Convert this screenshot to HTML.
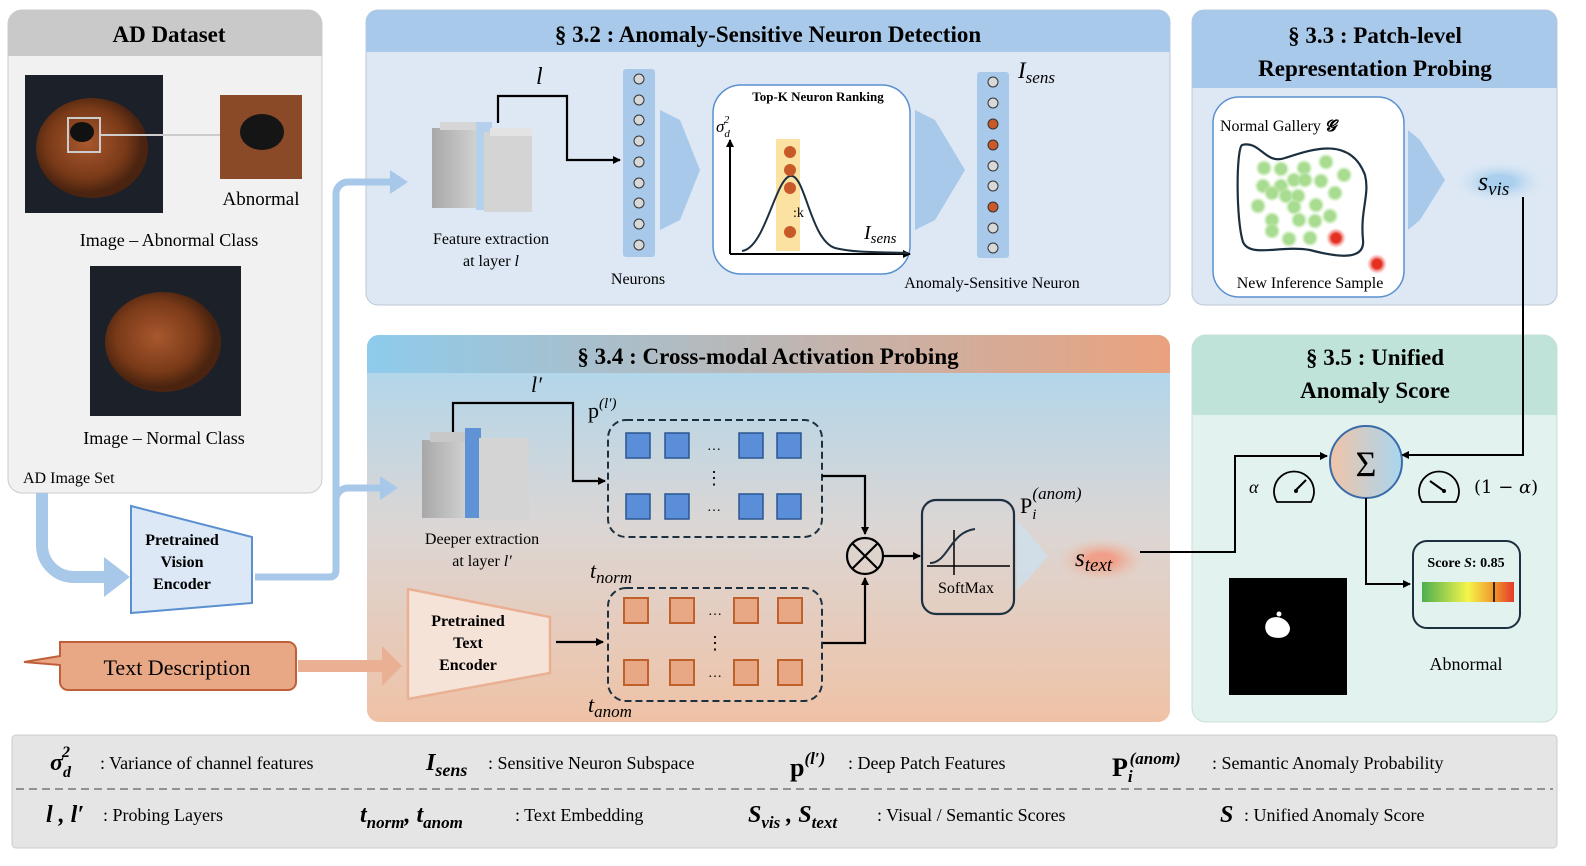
<!DOCTYPE html>
<html><head><meta charset="utf-8"><style>
html,body{margin:0;padding:0;background:#fff;}
svg{display:block;font-family:"Liberation Serif",serif;}
</style></head><body>
<svg width="1586" height="866" viewBox="0 0 1586 866" xmlns="http://www.w3.org/2000/svg">
<defs>
<linearGradient id="hdr34" x1="0" x2="1" y1="0" y2="0"><stop offset="0" stop-color="#8ecbec"/><stop offset="1" stop-color="#eaa27e"/></linearGradient>
<linearGradient id="body34" x1="0" x2="0" y1="0" y2="1"><stop offset="0" stop-color="#a9d6ef"/><stop offset="0.5" stop-color="#dcd6d4"/><stop offset="1" stop-color="#efc2a6"/></linearGradient>
<linearGradient id="sig" x1="0" x2="1"><stop offset="0" stop-color="#f0c4a8"/><stop offset="1" stop-color="#a8d6ef"/></linearGradient>
<linearGradient id="bar" x1="0" x2="1"><stop offset="0" stop-color="#4caf50"/><stop offset="0.5" stop-color="#f5f54a"/><stop offset="0.8" stop-color="#f0902a"/><stop offset="1" stop-color="#e63a2a"/></linearGradient>
<linearGradient id="blk" x1="0" x2="1"><stop offset="0" stop-color="#a8a8a8"/><stop offset="1" stop-color="#d0d0d0"/></linearGradient>
<radialGradient id="nut" cx="0.45" cy="0.45"><stop offset="0" stop-color="#a8582e"/><stop offset="0.7" stop-color="#7a3a18"/><stop offset="1" stop-color="#4a2410"/></radialGradient>
<radialGradient id="svis"><stop offset="0.3" stop-color="#a9d0ee"/><stop offset="1" stop-color="#dde8f4" stop-opacity="0"/></radialGradient>
<radialGradient id="stext"><stop offset="0.3" stop-color="#f0a08a"/><stop offset="1" stop-color="#eac6b2" stop-opacity="0"/></radialGradient>
<radialGradient id="gdot"><stop offset="0.55" stop-color="#a8dc90"/><stop offset="1" stop-color="#c8ecb8" stop-opacity="0"/></radialGradient>
<radialGradient id="rdot"><stop offset="0.45" stop-color="#e43020"/><stop offset="1" stop-color="#f08080" stop-opacity="0"/></radialGradient>
<marker id="ah" markerWidth="8" markerHeight="8" refX="7" refY="4" orient="auto" markerUnits="userSpaceOnUse"><path d="M0,0 L8,4 L0,8 z" fill="#000"/></marker>
</defs>

<!-- Panels backgrounds -->
<rect x="8" y="10" width="314" height="483" rx="14" fill="#f1f1f1" stroke="#ccc"/>
<path d="M8,56 V24 a14,14 0 0 1 14,-14 H308 a14,14 0 0 1 14,14 V56 z" fill="#c9c9c9"/>
<rect x="366" y="10" width="804" height="295" rx="12" fill="#dde8f4" stroke="#bcc8d4"/>
<path d="M366,52 V22 a12,12 0 0 1 12,-12 H1158 a12,12 0 0 1 12,12 V52 z" fill="#a9c9ea"/>
<rect x="1192" y="10" width="365" height="295" rx="12" fill="#dde8f4" stroke="#bcc8d4"/>
<path d="M1192,88 V22 a12,12 0 0 1 12,-12 H1545 a12,12 0 0 1 12,12 V88 z" fill="#a9c9ea"/>
<rect x="367" y="335" width="803" height="387" rx="12" fill="url(#body34)"/>
<path d="M367,373 V347 a12,12 0 0 1 12,-12 H1158 a12,12 0 0 1 12,12 V373 z" fill="url(#hdr34)"/>
<rect x="1192" y="335" width="365" height="387" rx="14" fill="#e2f2ee" stroke="#c8ddd8"/>
<path d="M1192,415 V349 a14,14 0 0 1 14,-14 H1543 a14,14 0 0 1 14,14 V415 z" fill="#bfe3d8"/>
<rect x="12" y="735" width="1545" height="113" rx="4" fill="#e5e5e5" stroke="#ccc"/>

<!-- AD Dataset -->
<text x="169" y="42" font-size="23" font-weight="bold" text-anchor="middle">AD Dataset</text>
<rect x="25" y="75" width="138" height="138" fill="#1c2028"/>
<ellipse cx="92" cy="148" rx="56" ry="50" fill="url(#nut)"/>
<ellipse cx="82" cy="132" rx="12" ry="10" fill="#111"/>
<rect x="68" y="118" width="32" height="34" fill="none" stroke="#ccc" stroke-width="2"/>
<line x1="100" y1="135" x2="220" y2="135" stroke="#ccc" stroke-width="2"/>
<rect x="220" y="95" width="82" height="84" fill="#8a4a28"/>
<ellipse cx="262" cy="132" rx="22" ry="18" fill="#151515"/>
<text x="261" y="205" font-size="19" text-anchor="middle">Abnormal</text>
<text x="169" y="246" font-size="18" text-anchor="middle">Image – Abnormal Class</text>
<rect x="90" y="266" width="151" height="150" fill="#1c2028"/>
<ellipse cx="163" cy="342" rx="58" ry="50" fill="url(#nut)"/>
<text x="164" y="444" font-size="18" text-anchor="middle">Image – Normal Class</text>
<text x="23" y="483" font-size="16">AD Image Set</text>

<!-- blue flows -->
<path d="M42,493 V545 a32,32 0 0 0 32,32 H108" fill="none" stroke="#a8c8ea" stroke-width="12"/>
<path d="M104,557 L130,577 L104,597 z" fill="#a8c8ea"/>
<path d="M255,577 H330 a6,6 0 0 0 6,-6 V194 a12,12 0 0 1 12,-12 H392" fill="none" stroke="#a8c8ea" stroke-width="7"/>
<path d="M390,170 L408,182 L390,194 z" fill="#a8c8ea"/>
<path d="M336,500 a12,12 0 0 1 12,-12 H382" fill="none" stroke="#a8c8ea" stroke-width="7"/>
<path d="M380,476 L398,488 L380,500 z" fill="#a8c8ea"/>
<path d="M131,506 L252,537 V603 L131,613 z" fill="#dce8f5" stroke="#5a90d0" stroke-width="2"/>
<text font-size="16" font-weight="bold" text-anchor="middle"><tspan x="182" y="545">Pretrained</tspan><tspan x="182" y="567">Vision</tspan><tspan x="182" y="589">Encoder</tspan></text>

<!-- Text description -->
<path d="M60,642 H288 a8,8 0 0 1 8,8 V682 a8,8 0 0 1 -8,8 H68 a8,8 0 0 1 -8,-8 V665 L24,662 L60,656 z" fill="#e8a886" stroke="#c0603a" stroke-width="2"/>
<text x="177" y="675" font-size="22" text-anchor="middle">Text Description</text>
<line x1="298" y1="666" x2="385" y2="666" stroke="#eab093" stroke-width="12"/>
<path d="M382,646 L402,666 L382,686 z" fill="#eab093"/>

<!-- Panel 3.2 -->
<text x="768" y="42" font-size="23" font-weight="bold" text-anchor="middle">§ 3.2 : Anomaly-Sensitive Neuron Detection</text>
<rect x="432" y="128" width="44" height="80" fill="url(#blk)"/><rect x="440" y="122" width="38" height="8" fill="#d6d6d6"/>
<rect x="476" y="122" width="16" height="88" fill="#b5d0ec"/>
<rect x="484" y="132" width="48" height="80" fill="#d4d4d4"/><rect x="490" y="128" width="42" height="8" fill="#e3e3e3"/>
<path d="M498,123 V96 H567 V160 H620" fill="none" stroke="#000" stroke-width="2.2" marker-end="url(#ah)"/>
<text x="536" y="84" font-size="24" font-style="italic">l</text>
<text x="491" y="244" font-size="16" text-anchor="middle">Feature extraction</text>
<text x="491" y="266" font-size="16" text-anchor="middle">at layer <tspan font-style="italic">l</tspan></text>
<rect x="623" y="69" width="32" height="188" rx="3" fill="#a9c9ea"/>
<g fill="#d8d8d8" stroke="#333"><circle cx="639" cy="79" r="5"/><circle cx="639" cy="100" r="5"/><circle cx="639" cy="120" r="5"/><circle cx="639" cy="141" r="5"/><circle cx="639" cy="162" r="5"/><circle cx="639" cy="183" r="5"/><circle cx="639" cy="203" r="5"/><circle cx="639" cy="224" r="5"/><circle cx="639" cy="245" r="5"/></g>
<text x="638" y="284" font-size="16" text-anchor="middle">Neurons</text>
<path d="M660,110 L680,120 L700,170 L680,220 L660,230 z" fill="#a9c9ea"/>
<rect x="713" y="85" width="197" height="189" rx="28" fill="#fff" stroke="#5a90d0" stroke-width="1.5"/>
<text x="818" y="101" font-size="13" font-weight="bold" text-anchor="middle">Top-K Neuron Ranking</text>
<rect x="776" y="139" width="24" height="112" fill="#fbe2a3"/>
<path d="M730,254 V140" stroke="#000" stroke-width="2" marker-end="url(#ah)"/>
<path d="M730,254 H910" stroke="#000" stroke-width="2" marker-end="url(#ah)"/>
<path d="M742,251 C765,248 775,180 790,176 C805,172 810,240 835,248 C855,253 880,252 908,253" fill="none" stroke="#1d3040" stroke-width="2"/>
<g fill="#c85a2a"><circle cx="790" cy="152" r="6"/><circle cx="790" cy="170" r="6"/><circle cx="790" cy="188" r="6"/><circle cx="790" cy="232" r="6"/></g>
<text x="793" y="217" font-size="14">:k</text>
<text x="716" y="132" font-size="17" font-style="italic">σ<tspan font-size="11" dy="5">d</tspan><tspan font-size="11" dx="-6" dy="-14">2</tspan></text>
<text x="864" y="239" font-size="20" font-style="italic">I<tspan font-size="15" dy="4">sens</tspan></text>
<path d="M915,110 L935,120 L965,170 L935,220 L915,230 z" fill="#a9c9ea"/>
<rect x="977" y="72" width="32" height="186" rx="3" fill="#a9c9ea"/>
<g stroke="#333"><circle cx="993" cy="82" r="5" fill="#d8d8d8"/><circle cx="993" cy="103" r="5" fill="#d8d8d8"/><circle cx="993" cy="124" r="5" fill="#c85a2a"/><circle cx="993" cy="145" r="5" fill="#c85a2a"/><circle cx="993" cy="166" r="5" fill="#d8d8d8"/><circle cx="993" cy="186" r="5" fill="#d8d8d8"/><circle cx="993" cy="207" r="5" fill="#c85a2a"/><circle cx="993" cy="228" r="5" fill="#d8d8d8"/><circle cx="993" cy="248" r="5" fill="#d8d8d8"/></g>
<text x="1018" y="78" font-size="23" font-style="italic">I<tspan font-size="17" dy="5">sens</tspan></text>
<text x="992" y="288" font-size="16" text-anchor="middle">Anomaly-Sensitive Neuron</text>

<!-- Panel 3.3 -->
<text x="1375" y="43" font-size="23" font-weight="bold" text-anchor="middle">§ 3.3 : Patch-level</text>
<text x="1375" y="76" font-size="23" font-weight="bold" text-anchor="middle">Representation Probing</text>
<rect x="1213" y="97" width="191" height="200" rx="26" fill="#fff" stroke="#5a90d0" stroke-width="1.5"/>
<text x="1220" y="131" font-size="16">Normal Gallery <tspan font-style="italic" font-weight="bold">𝓖</tspan></text>
<path d="M1242,145 C1260,140 1265,165 1285,158 C1310,150 1350,135 1365,175 C1370,195 1360,210 1363,240 C1365,260 1340,258 1310,250 C1280,245 1250,258 1243,242 C1236,220 1236,150 1242,145 z" fill="none" stroke="#1d3040" stroke-width="2.2"/>
<g fill="url(#gdot)"><circle cx="1264" cy="168" r="9"/><circle cx="1281" cy="169" r="9"/><circle cx="1304" cy="168" r="9"/><circle cx="1326" cy="162" r="9"/><circle cx="1344" cy="175" r="9"/><circle cx="1263" cy="186" r="9"/><circle cx="1281" cy="186" r="9"/><circle cx="1294" cy="180" r="9"/><circle cx="1305" cy="180" r="9"/><circle cx="1321" cy="181" r="9"/><circle cx="1335" cy="193" r="9"/><circle cx="1272" cy="193" r="9"/><circle cx="1286" cy="196" r="9"/><circle cx="1298" cy="196" r="9"/><circle cx="1258" cy="206" r="9"/><circle cx="1294" cy="207" r="9"/><circle cx="1316" cy="205" r="9"/><circle cx="1330" cy="216" r="9"/><circle cx="1272" cy="220" r="9"/><circle cx="1299" cy="220" r="9"/><circle cx="1315" cy="221" r="9"/><circle cx="1272" cy="231" r="9"/><circle cx="1289" cy="239" r="9"/><circle cx="1310" cy="238" r="9"/></g>
<circle cx="1336" cy="238" r="10" fill="url(#rdot)"/><circle cx="1377" cy="264" r="10" fill="url(#rdot)"/>
<text x="1310" y="288" font-size="16" text-anchor="middle">New Inference Sample</text>
<path d="M1408,130 L1420,140 L1445,180 L1420,220 L1408,230 z" fill="#a9c9ea"/>
<ellipse cx="1500" cy="182" rx="48" ry="22" fill="url(#svis)"/>
<text x="1478" y="190" font-size="26" font-style="italic">s<tspan font-size="19" dy="5">vis</tspan></text>
<path d="M1523,197 V455 H1402" fill="none" stroke="#000" stroke-width="2" marker-end="url(#ah)"/>

<!-- Panel 3.4 -->
<text x="768" y="364" font-size="23" font-weight="bold" text-anchor="middle">§ 3.4 : Cross-modal Activation Probing</text>
<rect x="422" y="440" width="44" height="78" fill="url(#blk)"/><rect x="430" y="432" width="40" height="10" fill="#c8c8c8"/>
<rect x="465" y="428" width="16" height="90" fill="#5f93d6"/>
<rect x="479" y="438" width="50" height="82" fill="#d4d4d4"/>
<path d="M453,432 V403 H573 V481 H605" fill="none" stroke="#000" stroke-width="2.2" marker-end="url(#ah)"/>
<text x="531" y="392" font-size="22" font-style="italic">l′</text>
<text x="482" y="544" font-size="16" text-anchor="middle">Deeper extraction</text>
<text x="482" y="566" font-size="16" text-anchor="middle">at layer <tspan font-style="italic">l′</tspan></text>
<text x="588" y="418" font-size="22">p<tspan font-size="15" font-style="italic" dy="-10">(l′)</tspan></text>
<rect x="608" y="420" width="214" height="117" rx="18" fill="none" stroke="#1d3040" stroke-width="2" stroke-dasharray="7,4"/>
<g fill="#5b8ed8" stroke="#2a5590" stroke-width="1.5"><rect x="626" y="433" width="24" height="25"/><rect x="665" y="433" width="24" height="25"/><rect x="739" y="433" width="24" height="25"/><rect x="777" y="433" width="24" height="25"/><rect x="626" y="494" width="24" height="25"/><rect x="665" y="494" width="24" height="25"/><rect x="739" y="494" width="24" height="25"/><rect x="777" y="494" width="24" height="25"/></g>
<text x="714" y="450" font-size="14" text-anchor="middle">…</text><text x="714" y="511" font-size="14" text-anchor="middle">…</text><text x="714" y="484" font-size="18" text-anchor="middle">⋮</text>
<path d="M822,476 H865 V534" fill="none" stroke="#000" stroke-width="2.2" marker-end="url(#ah)"/>
<path d="M822,643 H865 V578" fill="none" stroke="#000" stroke-width="2.2" marker-end="url(#ah)"/>
<circle cx="865" cy="556" r="18" fill="none" stroke="#000" stroke-width="2.2"/>
<path d="M852,543 L878,569 M878,543 L852,569" stroke="#000" stroke-width="2.2"/>
<path d="M883,556 H920" stroke="#000" stroke-width="2.2" marker-end="url(#ah)"/>
<rect x="922" y="500" width="92" height="114" rx="14" fill="none" stroke="#1d3040" stroke-width="2.2"/>
<path d="M927,566 H1010 M954,530 V575" stroke="#000" stroke-width="1.5"/>
<path d="M930,563 C948,563 950,532 975,529" fill="none" stroke="#1d3040" stroke-width="2"/>
<text x="966" y="593" font-size="16" text-anchor="middle">SoftMax</text>
<path d="M1017,520 L1030,535 L1048,556 L1030,577 L1017,590 z" fill="#cde0ee" opacity="0.8"/>
<text x="1020" y="513" font-size="22">P<tspan font-size="15" font-style="italic" dy="6">i</tspan><tspan font-size="17" font-style="italic" dx="-4" dy="-20">(anom)</tspan></text>
<ellipse cx="1102" cy="560" rx="44" ry="22" fill="url(#stext)"/>
<text x="1075" y="566" font-size="25" font-style="italic">s<tspan font-size="19" dy="5">text</tspan></text>
<path d="M1140,552 H1235 V456 H1327" fill="none" stroke="#000" stroke-width="2" marker-end="url(#ah)"/>
<path d="M408,589 L550,617 V673 L408,699 z" fill="#f6e3d8" stroke="#eab093" stroke-width="2.5"/>
<text font-size="16" font-weight="bold" text-anchor="middle"><tspan x="468" y="626">Pretrained</tspan><tspan x="468" y="648">Text</tspan><tspan x="468" y="670">Encoder</tspan></text>
<path d="M556,642 H603" stroke="#000" stroke-width="2.2" marker-end="url(#ah)"/>
<text x="590" y="578" font-size="22" font-style="italic">t<tspan font-size="17" dy="5">norm</tspan></text>
<rect x="608" y="588" width="214" height="113" rx="18" fill="none" stroke="#1d3040" stroke-width="2" stroke-dasharray="7,4"/>
<g fill="#e8a886" stroke="#c0602a" stroke-width="2"><rect x="624" y="598" width="24" height="25"/><rect x="670" y="598" width="24" height="25"/><rect x="734" y="598" width="24" height="25"/><rect x="778" y="598" width="24" height="25"/><rect x="624" y="660" width="24" height="25"/><rect x="670" y="660" width="24" height="25"/><rect x="734" y="660" width="24" height="25"/><rect x="778" y="660" width="24" height="25"/></g>
<text x="715" y="615" font-size="14" text-anchor="middle">…</text><text x="715" y="677" font-size="14" text-anchor="middle">…</text><text x="715" y="649" font-size="18" text-anchor="middle">⋮</text>
<text x="588" y="712" font-size="22" font-style="italic">t<tspan font-size="17" dy="5">anom</tspan></text>

<!-- Panel 3.5 -->
<text x="1375" y="365" font-size="23" font-weight="bold" text-anchor="middle">§ 3.5 : Unified</text>
<text x="1375" y="398" font-size="23" font-weight="bold" text-anchor="middle">Anomaly Score</text>
<circle cx="1366" cy="462" r="36" fill="url(#sig)" stroke="#3a6aa8" stroke-width="2"/>
<text x="1366" y="476" font-size="36" text-anchor="middle">Σ</text>
<text x="1249" y="493" font-size="18" font-style="italic">α</text>
<path d="M1277,502 a20,20 0 1 1 34,0 z" fill="none" stroke="#000" stroke-width="1.8"/>
<path d="M1306,480 L1296,490" stroke="#000" stroke-width="2"/><circle cx="1296" cy="491" r="2" fill="#000"/>
<path d="M1422,502 a20,20 0 1 1 34,0 z" fill="none" stroke="#000" stroke-width="1.8"/>
<path d="M1430,481 L1444,491" stroke="#000" stroke-width="2"/><circle cx="1444" cy="491" r="2" fill="#000"/>
<text x="1474" y="493" font-size="18" font-family="DejaVu Serif,serif">(1 − <tspan font-style="italic">α</tspan>)</text>
<path d="M1366,498 V584 H1410" fill="none" stroke="#000" stroke-width="2" marker-end="url(#ah)"/>
<rect x="1413" y="541" width="107" height="87" rx="14" fill="#e2f2ee" stroke="#1d3040" stroke-width="2"/>
<text x="1466" y="567" font-size="14" font-weight="bold" text-anchor="middle">Score <tspan font-style="italic">S</tspan>: 0.85</text>
<rect x="1422" y="582" width="92" height="20" fill="url(#bar)"/>
<line x1="1494" y1="582" x2="1494" y2="602" stroke="#000" stroke-width="1.5"/>
<text x="1466" y="670" font-size="18" text-anchor="middle">Abnormal</text>
<rect x="1229" y="578" width="118" height="117" fill="#000"/>
<path d="M1268,620 C1275,614 1288,618 1290,628 C1290,638 1278,640 1270,636 C1264,632 1264,624 1268,620 z" fill="#fff"/>
<circle cx="1279" cy="614" r="2.5" fill="#fff"/>

<!-- Legend -->
<line x1="16" y1="789" x2="1553" y2="789" stroke="#777" stroke-width="1.5" stroke-dasharray="8,5"/>
<g font-size="18">
<text x="50" y="770" font-size="24" font-weight="bold" font-style="italic">σ<tspan font-size="16" dy="7">d</tspan><tspan font-size="16" dx="-9" dy="-20">2</tspan></text>
<text x="100" y="769">: Variance of channel features</text>
<text x="426" y="770" font-size="24" font-weight="bold" font-style="italic">I<tspan font-size="18" dy="6">sens</tspan></text>
<text x="488" y="769">: Sensitive Neuron Subspace</text>
<text x="790" y="776" font-size="26" font-weight="bold">p<tspan font-size="17" font-style="italic" dy="-12">(l′)</tspan></text>
<text x="848" y="769">: Deep Patch Features</text>
<text x="1112" y="776" font-size="26" font-weight="bold">P<tspan font-size="17" font-style="italic" dy="6">i</tspan><tspan font-size="17" font-style="italic" dx="-3" dy="-18">(anom)</tspan></text>
<text x="1212" y="769">: Semantic Anomaly Probability</text>
<text x="46" y="822" font-size="24" font-weight="bold" font-style="italic">l , l′</text>
<text x="103" y="821">: Probing Layers</text>
<text x="360" y="822" font-size="24" font-weight="bold" font-style="italic">t<tspan font-size="17" dy="6">norm</tspan><tspan dy="-6">, t</tspan><tspan font-size="17" dy="6">anom</tspan></text>
<text x="515" y="821">: Text Embedding</text>
<text x="748" y="822" font-size="24" font-weight="bold" font-style="italic">S<tspan font-size="17" dy="6">vis</tspan><tspan dy="-6"> , S</tspan><tspan font-size="17" dy="6">text</tspan></text>
<text x="877" y="821">: Visual / Semantic Scores</text>
<text x="1220" y="822" font-size="24" font-weight="bold" font-style="italic">S</text>
<text x="1244" y="821">: Unified Anomaly Score</text>
</g>
</svg>
</body></html>
